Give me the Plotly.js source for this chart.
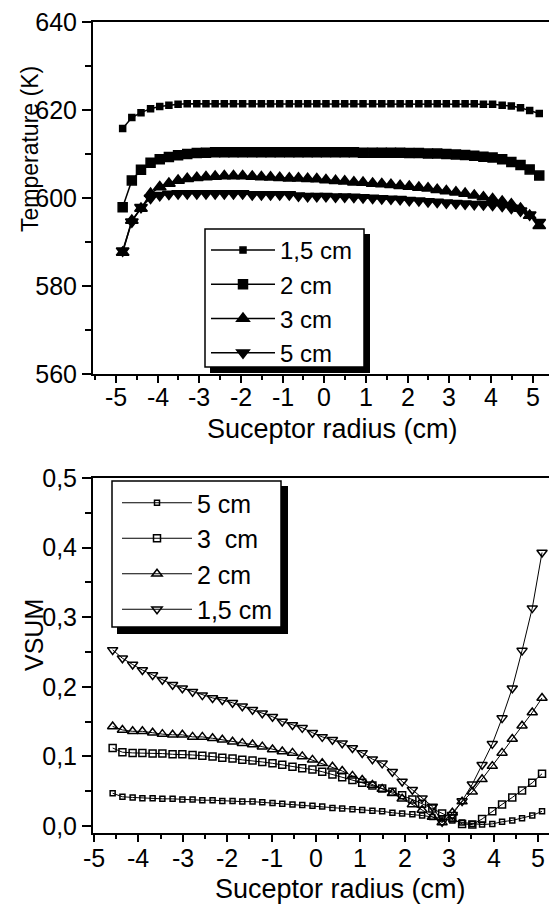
<!DOCTYPE html>
<html>
<head>
<meta charset="utf-8">
<script src="https://cdn.plot.ly/plotly-3.0.1.min.js"></script>
<style>html,body{margin:0;padding:0;background:#fff}#chart{width:549px;height:904px}</style>
</head>
<body>
<div id="chart"></div>
<script>
// ---------- data ----------
const xTop = [-4.84,-4.62,-4.40,-4.17,-3.95,-3.73,-3.51,-3.29,-3.06,-2.84,-2.62,-2.40,-2.18,-1.96,-1.73,-1.51,-1.29,-1.07,-0.84,-0.62,-0.40,-0.18,0.04,0.27,0.49,0.71,0.93,1.16,1.38,1.60,1.82,2.04,2.27,2.49,2.71,2.93,3.16,3.38,3.60,3.82,4.04,4.27,4.49,4.71,4.93,5.16];
const temp15 = [615.8,618.3,619.4,620.3,620.8,621.1,621.3,621.4,621.4,621.4,621.4,621.4,621.4,621.4,621.4,621.4,621.4,621.4,621.4,621.4,621.4,621.4,621.4,621.4,621.4,621.4,621.4,621.4,621.4,621.4,621.4,621.4,621.4,621.4,621.4,621.4,621.4,621.4,621.4,621.3,621.3,621.1,620.9,620.5,619.9,619.2];
const temp2 = [597.9,604.0,606.4,608.0,608.8,609.3,609.7,610.0,610.2,610.3,610.4,610.4,610.4,610.4,610.4,610.4,610.4,610.4,610.4,610.4,610.4,610.4,610.4,610.4,610.4,610.4,610.3,610.3,610.3,610.3,610.3,610.2,610.2,610.1,610.1,610.0,609.9,609.8,609.6,609.4,609.2,608.8,608.2,607.5,606.5,605.1];
const temp3 = [587.6,594.9,597.6,601.0,602.5,603.3,604.0,604.4,604.6,604.8,604.9,605.0,605.0,605.0,604.9,604.8,604.7,604.6,604.5,604.5,604.4,604.3,604.1,603.9,603.8,603.6,603.5,603.3,603.2,603.0,602.8,602.6,602.4,602.2,601.9,601.6,601.3,601.0,600.6,600.2,599.8,599.2,598.6,597.6,596.0,593.7];
const temp5 = [588.0,594.6,597.9,600.0,600.6,600.9,601.0,601.0,601.0,601.0,601.0,601.0,601.0,601.0,600.8,600.8,600.8,600.8,600.8,600.5,600.4,600.4,600.4,600.3,600.3,600.2,600.1,600.0,599.9,599.8,599.7,599.5,599.4,599.2,599.1,598.9,598.8,598.7,598.6,598.5,598.4,598.2,597.7,597.1,596.2,594.5];
const topNames = ["1,5 cm","2 cm","3 cm","5 cm"];

const xBot = [-4.58,-4.36,-4.13,-3.91,-3.68,-3.46,-3.23,-3.01,-2.78,-2.56,-2.33,-2.11,-1.88,-1.66,-1.43,-1.21,-0.98,-0.76,-0.53,-0.31,-0.08,0.14,0.37,0.59,0.82,1.04,1.27,1.49,1.72,1.94,2.17,2.39,2.62,2.84,3.07,3.29,3.52,3.74,3.97,4.19,4.42,4.64,4.87,5.09];
const vsum5 = [0.047,0.042,0.041,0.040,0.040,0.039,0.039,0.038,0.038,0.037,0.037,0.036,0.036,0.035,0.035,0.034,0.033,0.032,0.031,0.030,0.029,0.028,0.026,0.025,0.024,0.023,0.022,0.021,0.019,0.018,0.017,0.015,0.013,0.011,0.008,0.005,0.003,0.002,0.003,0.006,0.008,0.011,0.015,0.021];
const vsum3 = [0.112,0.106,0.105,0.105,0.104,0.104,0.103,0.103,0.102,0.101,0.100,0.098,0.097,0.095,0.094,0.092,0.090,0.088,0.085,0.083,0.081,0.078,0.074,0.070,0.066,0.062,0.058,0.054,0.049,0.044,0.038,0.032,0.025,0.018,0.011,0.003,0.002,0.010,0.021,0.031,0.041,0.051,0.062,0.075];
const vsum2 = [0.143,0.138,0.136,0.136,0.134,0.132,0.131,0.131,0.128,0.128,0.126,0.124,0.121,0.119,0.117,0.114,0.110,0.107,0.105,0.100,0.095,0.090,0.085,0.079,0.072,0.066,0.059,0.053,0.047,0.039,0.031,0.023,0.013,0.005,0.019,0.035,0.049,0.067,0.086,0.105,0.125,0.144,0.163,0.184];
const vsum15 = [0.253,0.241,0.232,0.224,0.217,0.210,0.203,0.198,0.193,0.188,0.184,0.181,0.177,0.172,0.167,0.162,0.157,0.150,0.145,0.141,0.134,0.128,0.124,0.119,0.112,0.105,0.096,0.090,0.078,0.064,0.052,0.040,0.028,0.006,0.016,0.036,0.060,0.088,0.118,0.155,0.198,0.252,0.313,0.393];
const botNames = ["5 cm","3\u00A0 cm","2 cm","1,5 cm"];

const xTickVals = [-5,-4,-3,-2,-1,0,1,2,3,4,5];
const xTickText = ["-5","-4","-3","-2","-1","0","1","2","3","4","5"];
const tTickVals = [560,580,600,620,640];
const tTickText = ["560","580","600","620","640"];
const vTickVals = [0,0.1,0.2,0.3,0.4,0.5];
const vTickText = ["0,0","0,1","0,2","0,3","0,4","0,5"];

// ---------- layout helpers (pixel -> paper) ----------
const W = 549, H = 904;
const M = {l: 93, r: 0, t: 22, b: 71};
const PW = W - M.l - M.r, PH = H - M.t - M.b;
const px = v => (v - M.l) / PW;
const py = v => (H - M.b - v) / PH;

const FONT = 'Liberation Sans, Arial, Helvetica, sans-serif';

function tr(x, y, name, xa, ya, sym, size, lw, legend) {
  return {
    x: x, y: y, name: name, xaxis: xa, yaxis: ya, legend: legend,
    type: 'scatter', mode: 'lines+markers',
    line: {color: 'black', width: lw},
    marker: {symbol: sym, size: size, color: 'black', line: {color: 'black', width: 1.5}}
  };
}

const data = [
  tr(xTop, temp15, topNames[0], 'x', 'y', 'square', 6, 1.5, 'legend'),
  tr(xTop, temp2, topNames[1], 'x', 'y', 'square', 9, 1.5, 'legend'),
  tr(xTop, temp3, topNames[2], 'x', 'y', 'triangle-up', 11, 1.5, 'legend'),
  tr(xTop, temp5, topNames[3], 'x', 'y', 'triangle-down', 11, 1.5, 'legend'),
  tr(xBot, vsum5, botNames[0], 'x2', 'y2', 'square-open', 5, 1, 'legend2'),
  tr(xBot, vsum3, botNames[1], 'x2', 'y2', 'square-open', 7, 1, 'legend2'),
  tr(xBot, vsum2, botNames[2], 'x2', 'y2', 'triangle-up-open', 9, 1, 'legend2'),
  tr(xBot, vsum15, botNames[3], 'x2', 'y2', 'triangle-down-open', 9, 1, 'legend2')
];

const axBase = {
  showline: true, linecolor: 'black', linewidth: 2,
  ticks: 'outside', tickcolor: 'black', tickwidth: 2,
  showgrid: false, zeroline: false, automargin: false,
  tickfont: {family: FONT, size: 25, color: 'black'}
};

// x tick labels placed through the x scales (annotations with xref = axis)
function xLabels(xref, yPix) {
  return xTickVals.map((v, i) => ({
    text: xTickText[i], xref: xref, yref: 'paper', x: v, y: py(yPix),
    showarrow: false, xanchor: 'center', yanchor: 'middle',
    font: {family: FONT, size: 25, color: 'black'}
  }));
}

const layout = {
  width: W, height: H,
  margin: M,
  paper_bgcolor: 'white', plot_bgcolor: 'white',
  font: {family: FONT, color: 'black'},
  showlegend: true,
  xaxis: Object.assign({}, axBase, {
    domain: [0, 1], anchor: 'y', range: [-5.552, 5.394], mirror: true,
    tickmode: 'array', tickvals: xTickVals, ticktext: xTickText, ticklen: 7, showticklabels: false,
    minor: {tickmode: 'linear', tick0: -5, dtick: 0.5, ticks: 'outside', ticklen: 4, tickcolor: 'black', tickwidth: 2, showgrid: false}
  }),
  yaxis: Object.assign({}, axBase, {
    domain: [py(374), 1], anchor: 'x', range: [560, 640],
    tickmode: 'array', tickvals: tTickVals, ticktext: tTickText, ticklen: 9,
    minor: {tickmode: 'linear', tick0: 560, dtick: 10, ticks: 'outside', ticklen: 6, tickcolor: 'black', tickwidth: 2, showgrid: false}
  }),
  xaxis2: Object.assign({}, axBase, {
    domain: [0, 1], anchor: 'y2', range: [-5.0225, 5.247], mirror: true,
    tickmode: 'array', tickvals: xTickVals, ticktext: xTickText, ticklen: 7, showticklabels: false,
    minor: {tickmode: 'linear', tick0: -5, dtick: 0.5, ticks: 'outside', ticklen: 4, tickcolor: 'black', tickwidth: 2, showgrid: false}
  }),
  yaxis2: Object.assign({}, axBase, {
    domain: [0, py(478)], anchor: 'x2', range: [-0.0101, 0.5],
    tickmode: 'array', tickvals: vTickVals, ticktext: vTickText, ticklen: 9,
    minor: {tickmode: 'linear', tick0: 0, dtick: 0.05, ticks: 'outside', ticklen: 6, tickcolor: 'black', tickwidth: 2, showgrid: false}
  }),
  legend: {
    x: px(206), y: py(228), xanchor: 'left', yanchor: 'top',
    bgcolor: 'rgba(0,0,0,0)', borderwidth: 0, itemwidth: 64,
    font: {family: FONT, size: 24, color: 'black'}, tracegroupgap: 0
  },
  legend2: {
    x: px(117), y: py(480), xanchor: 'left', yanchor: 'top',
    bgcolor: 'rgba(0,0,0,0)', borderwidth: 0, itemwidth: 70,
    font: {family: FONT, size: 25, color: 'black'}, tracegroupgap: 0
  },
  shapes: [
    {type: 'rect', xref: 'paper', yref: 'paper', layer: 'above', x0: px(210), x1: px(370), y0: py(234), y1: py(373), fillcolor: 'black', line: {width: 0}},
    {type: 'rect', xref: 'paper', yref: 'paper', layer: 'above', x0: px(205), x1: px(364), y0: py(229), y1: py(367), fillcolor: 'white', line: {color: 'black', width: 1.5}},
    {type: 'rect', xref: 'paper', yref: 'paper', layer: 'above', x0: px(117), x1: px(288), y0: py(486), y1: py(634), fillcolor: 'black', line: {width: 0}},
    {type: 'rect', xref: 'paper', yref: 'paper', layer: 'above', x0: px(112), x1: px(281), y0: py(481), y1: py(627), fillcolor: 'white', line: {color: 'black', width: 1.5}}
  ],
  annotations: [
    {text: 'Temperature (K)', xref: 'paper', yref: 'paper', x: px(30), y: py(149), textangle: -90, showarrow: false, xanchor: 'center', yanchor: 'middle', font: {family: FONT, size: 23, color: 'black'}},
    {text: 'Suceptor radius (cm)', xref: 'paper', yref: 'paper', x: px(332), y: py(429), showarrow: false, xanchor: 'center', yanchor: 'middle', font: {family: FONT, size: 27, color: 'black'}},
    {text: 'VSUM', xref: 'paper', yref: 'paper', x: px(34), y: py(635), textangle: -90, showarrow: false, xanchor: 'center', yanchor: 'middle', font: {family: FONT, size: 25, color: 'black'}},
    {text: 'Suceptor radius (cm)', xref: 'paper', yref: 'paper', x: px(340), y: py(889), showarrow: false, xanchor: 'center', yanchor: 'middle', font: {family: FONT, size: 27, color: 'black'}}
  ].concat(xLabels('x', 397), xLabels('x2', 858))
};

Plotly.newPlot('chart', data, layout, {staticPlot: true, displayModeBar: false});
</script>
</body>
</html>
